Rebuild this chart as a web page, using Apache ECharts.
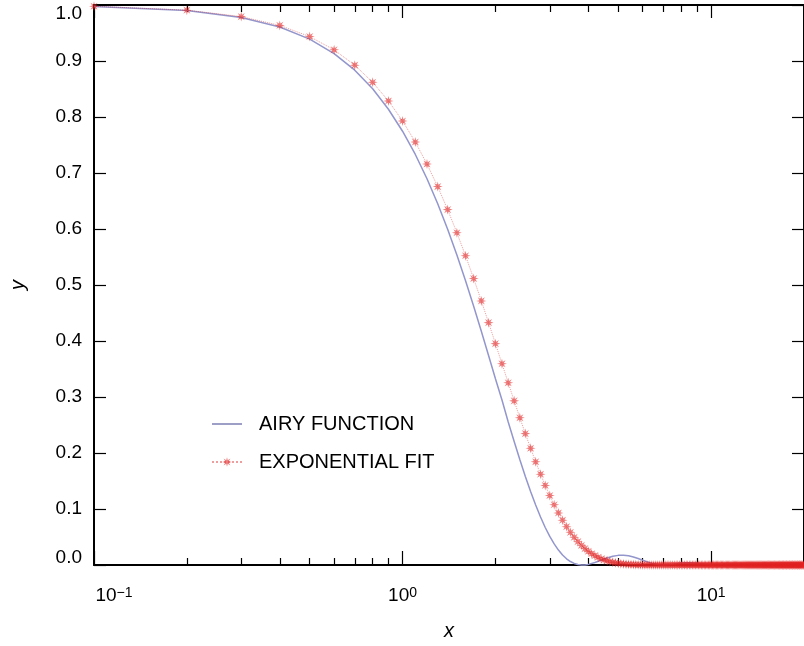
<!DOCTYPE html>
<html><head><meta charset="utf-8">
<script src="https://cdn.jsdelivr.net/npm/echarts@6/dist/echarts.min.js"></script>
<style>html,body{margin:0;padding:0;background:#fff}#c{width:804px;height:646px}</style>
</head><body><div id="c"></div>
<script>
// ---- data ----
const seriesNames = ['AIRY FUNCTION', 'EXPONENTIAL FIT'];

const airyX = [0.1,0.2,0.3,0.4,0.5,0.6,0.7,0.8,0.9,1.0,
  1.1,1.2,1.3,1.4,1.5,1.6,1.7,1.8,1.9,2.0,
  2.1,2.2,2.3,2.4,2.5,2.6,2.7,2.8,2.9,3.0,
  3.1,3.2,3.3,3.4,3.5,3.6,3.7,3.8,3.83,3.9,
  4.0,4.2,4.4,4.6,4.8,5.0,5.2,5.4,5.6,5.8,
  6.0,6.4,6.8,7.02,7.5,8.0,8.5,9.0,9.5,10.17,
  11,12,13.32,14,15,16.47,18,19.62,20];
const airyY = [0.9975,0.9900,0.9777,0.9607,0.9391,0.9133,0.8836,0.8503,0.8138,0.7746,
  0.7331,0.6897,0.6450,0.5994,0.5534,0.5075,0.4620,0.4175,0.3742,0.3326,
  0.2946,0.2555,0.2204,0.1879,0.1582,0.1312,0.1070,0.0856,0.0670,0.0511,
  0.0377,0.0266,0.0179,0.0111,0.0062,0.0028,0.0008,0.00005,0,0.0002,
  0.0011,0.0044,0.0085,0.0124,0.0155,0.0172,0.0174,0.0164,0.0143,0.0115,
  0.0085,0.0033,0.0004,0,0.0013,0.0034,0.0041,0.0030,0.0012,0,
  0.0010,0.0014,0,0.0004,0.0008,0,0.0004,0,0];

const fitX = [0.1,0.2,0.3,0.4,0.5,0.6,0.7,0.8,0.9,1.0,
  1.1,1.2,1.3,1.4,1.5,1.6,1.7,1.8,1.9,2.0,
  2.1,2.2,2.3,2.4,2.5,2.6,2.7,2.8,2.9,3.0,
  3.1,3.2,3.3,3.4,3.5,3.6,3.7,3.8,3.9,4.0,
  4.1,4.2,4.3,4.4,4.5,4.6,4.7,4.8,4.9,5.0,
  5.1,5.2,5.3,5.4,5.5,5.6,5.7,5.8,5.9,6.0,
  6.1,6.2,6.3,6.4,6.5,6.6,6.7,6.8,6.9,7.0,
  7.1,7.2,7.3,7.4,7.5,7.6,7.7,7.8,7.9,8.0,
  8.1,8.2,8.3,8.4,8.5,8.6,8.7,8.8,8.9,9.0,
  9.1,9.2,9.3,9.4,9.5,9.6,9.7,9.8,9.9,10.0,
  10.1,10.2,10.3,10.4,10.5,10.6,10.7,10.8,10.9,11.0,
  11.1,11.2,11.3,11.4,11.5,11.6,11.7,11.8,11.9,12.0,
  12.1,12.2,12.3,12.4,12.5,12.6,12.7,12.8,12.9,13.0,
  13.1,13.2,13.3,13.4,13.5,13.6,13.7,13.8,13.9,14.0,
  14.1,14.2,14.3,14.4,14.5,14.6,14.7,14.8,14.9,15.0,
  15.1,15.2,15.3,15.4,15.5,15.6,15.7,15.8,15.9,16.0,
  16.1,16.2,16.3,16.4,16.5,16.6,16.7,16.8,16.9,17.0,
  17.1,17.2,17.3,17.4,17.5,17.6,17.7,17.8,17.9,18.0,
  18.1,18.2,18.3,18.4,18.5,18.6,18.7,18.8,18.9,19.0,
  19.1,19.2,19.3,19.4,19.5,19.6,19.7,19.8,19.9,20.0];
const fitY = [0.9977,0.9908,0.9793,0.9636,0.9436,0.9199,0.8926,0.8620,0.8287,0.7929,
  0.7552,0.7160,0.6757,0.6346,0.5933,0.5522,0.5115,0.4716,0.4328,0.3953,
  0.3595,0.3254,0.2931,0.2628,0.2346,0.2084,0.1843,0.1622,0.1421,0.1240,
  0.1076,0.0930,0.0800,0.0684,0.0583,0.0494,0.0417,0.0351,0.0293,0.0244,
  0.0202,0.0167,0.0137,0.0112,0.0091,0.0074,0.0059,0.0048,0.0038,0.0030,
  0.0024,0.0019,0.0015,0.0012,0.0009,0.0007,0.0005,0.0004,0.0003,0.0002,
  0,0,0,0,0,0,0,0,0,0,
  0,0,0,0,0,0,0,0,0,0,
  0,0,0,0,0,0,0,0,0,0,
  0,0,0,0,0,0,0,0,0,0,
  0,0,0,0,0,0,0,0,0,0,
  0,0,0,0,0,0,0,0,0,0,
  0,0,0,0,0,0,0,0,0,0,
  0,0,0,0,0,0,0,0,0,0,
  0,0,0,0,0,0,0,0,0,0,
  0,0,0,0,0,0,0,0,0,0,
  0,0,0,0,0,0,0,0,0,0,
  0,0,0,0,0,0,0,0,0,0,
  0,0,0,0,0,0,0,0,0,0,
  0,0,0,0,0,0,0,0,0,0];

const xMajorTicks = [0.1, 1, 10];
const xMinorTicks = [0.2,0.3,0.4,0.5,0.6,0.7,0.8,0.9,2,3,4,5,6,7,8,9,20];
const yTickLabels = ['0.0','0.1','0.2','0.3','0.4','0.5','0.6','0.7','0.8','0.9','1.0'];

// ---- chart ----
const FONT = 'Liberation Sans';
const star = 'path://M10,0L11.53,6.3L17.07,2.93L13.7,8.47L20,10L13.7,11.53L17.07,17.07L11.53,13.7L10,20L8.47,13.7L2.93,17.07L6.3,11.53L0,10L6.3,8.47L2.93,2.93L8.47,6.3Z';
const lineIcon = 'path://M0,0L0.01,0L0.01,0.01Z M0,5.3L30,5.3L30,6.8L0,6.8Z M0,12L0.01,12L0.01,11.99Z';

const chart = echarts.init(document.getElementById('c'), null, {renderer: 'canvas'});

function xAxisBase(pos, ticks, len, showLine) {
  return {
    type: 'log', logBase: 10, min: 0.1, max: 20, position: pos, gridIndex: 0,
    axisLine: {show: showLine, onZero: false, lineStyle: {color: '#000', width: 2}},
    axisTick: {show: true, inside: true, length: len, customValues: ticks, lineStyle: {color: '#000', width: 1.2}},
    axisLabel: {show: false},
    splitLine: {show: false}, minorTick: {show: false}
  };
}

const xBottom = xAxisBase('bottom', xMajorTicks, 14, true);
xBottom.axisLabel = {
  show: true, customValues: xMajorTicks, margin: 21, color: '#000',
  fontFamily: FONT,
  formatter: function (v) {
    const e = Math.round(Math.log10(v));
    const ex = e < 0 ? '\u2212' + Math.abs(e) : String(e);
    return (e === -1 ? '{b0|10}' : '{b|10}') + '{s|' + ex + '}';
  },
  rich: {
    b: {fontSize: 19, fontFamily: FONT, color: '#000'},
    b0: {fontSize: 19, fontFamily: FONT, color: '#000', padding: [0, 0, 0, 40]},
    s: {fontSize: 14, fontFamily: FONT, color: '#000', verticalAlign: 'top', lineHeight: 12, padding: [0, 0, 3, 0]}
  }
};
xBottom.name = 'x';
xBottom.nameLocation = 'middle';
xBottom.nameGap = 56;
xBottom.nameTextStyle = {fontFamily: FONT, fontSize: 20, fontStyle: 'italic', color: '#000'};

function yAxisBase(pos, labels) {
  return {
    type: 'value', min: 0, max: 1, interval: 0.1, position: pos,
    axisLine: {show: true, onZero: false, lineStyle: {color: '#000', width: 2}},
    axisTick: {show: true, inside: true, length: 12, lineStyle: {color: '#000', width: 1.2}},
    splitLine: {show: false},
    axisLabel: labels ? {
      show: true, margin: 12, color: '#000', fontFamily: FONT, fontSize: 19,
      formatter: function (v) {
        const t = yTickLabels[Math.round(v * 10)];
        if (Math.round(v * 10) === 10) return '{t|' + t + '}';
        if (Math.round(v * 10) === 0) return '{bt|' + t + '}';
        return t;
      },
      rich: {
        t: {fontSize: 19, fontFamily: FONT, color: '#000', padding: [17, 0, 0, 0]},
        bt: {fontSize: 19, fontFamily: FONT, color: '#000', padding: [0, 0, 14, 0]}
      }
    } : {show: false}
  };
}

const yLeft = yAxisBase('left', true);
yLeft.name = 'y';
yLeft.nameLocation = 'middle';
yLeft.nameGap = 66;
yLeft.nameTextStyle = {fontFamily: FONT, fontSize: 20, fontStyle: 'italic', color: '#000'};

const option = {
  animation: false,
  backgroundColor: '#fff',
  grid: {left: 94, top: 5, width: 711, height: 562, containLabel: false},
  legend: {
    orient: 'vertical', left: 206, top: 409,
    itemWidth: 30, itemHeight: 12, itemGap: 18,
    textStyle: {fontFamily: FONT, fontSize: 20, color: '#000', lineHeight: 20, padding: [0, 0, 0, 12]},
    data: [{name: seriesNames[0], icon: lineIcon}, {name: seriesNames[1]}]
  },
  xAxis: [
    xBottom,
    xAxisBase('bottom', xMinorTicks, 7, false),
    xAxisBase('top', xMajorTicks, 13, true),
    xAxisBase('top', xMinorTicks, 7, false)
  ],
  yAxis: [yLeft, yAxisBase('right', false)],
  series: [
    {
      name: seriesNames[0], type: 'line', xAxisIndex: 0, yAxisIndex: 0,
      data: airyX.map((x, i) => [x, airyY[i]]),
      symbol: 'none', clip: false, z: 2,
      lineStyle: {color: '#9396cc', width: 1.5},
      itemStyle: {color: '#7d80b4'}
    },
    {
      name: seriesNames[1], type: 'line', xAxisIndex: 0, yAxisIndex: 0,
      data: fitX.map((x, i) => [x, fitY[i]]),
      symbol: star, symbolSize: 10, showSymbol: true, clip: false, z: 3,
      itemStyle: {color: 'rgba(225,35,35,0.6)'},
      lineStyle: {color: 'rgba(220,40,40,0.45)', width: 1, type: 'dotted'}
    }
  ]
};
chart.setOption(option);
</script>
</body></html>
